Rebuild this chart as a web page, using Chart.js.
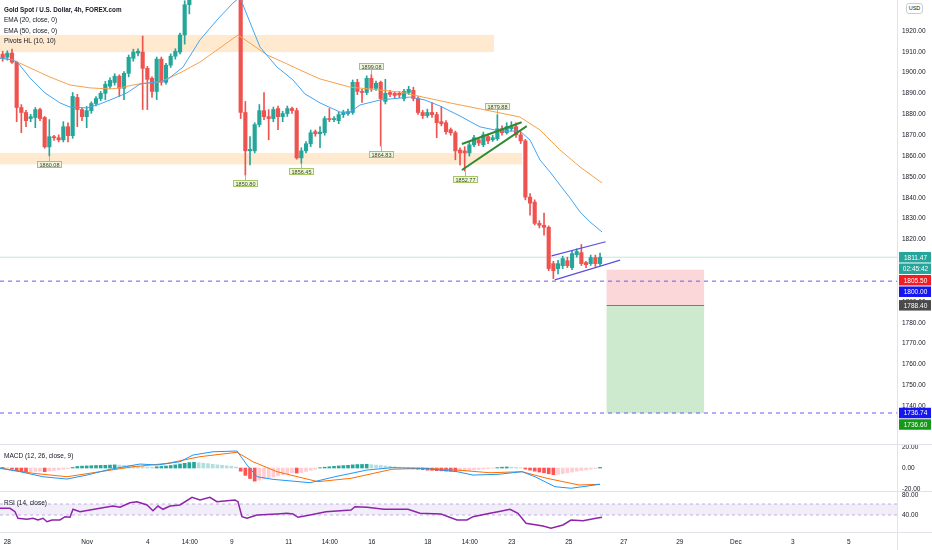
<!DOCTYPE html>
<html>
<head>
<meta charset="utf-8">
<title>Gold Spot 4h</title>
<script src="https://cdn.jsdelivr.net/npm/chart.js@4.4.0/dist/chart.umd.min.js"></script>
<style>
html,body{margin:0;padding:0;background:#fff;}
#wrap{position:relative;width:932px;height:550px;overflow:hidden;}
#wrap canvas{position:absolute;left:0;top:0;}
.lbl{position:absolute;left:4px;font-family:"Liberation Sans",Arial,sans-serif;font-size:6.5px;color:#131722;white-space:nowrap;line-height:10.5px;}
#usd{position:absolute;left:906px;top:3px;width:15px;height:9px;border:1px solid #c9ccd4;border-radius:3px;font-family:"Liberation Sans",Arial,sans-serif;font-size:5.5px;line-height:9px;text-align:center;color:#131722;background:#fff;}
</style>
</head>
<body>
<div id="wrap">
<canvas id="mycanvas" width="932" height="550"></canvas>
<div class="lbl" style="top:4.75px"><span style="font-weight:bold;font-size:6.3px">Gold Spot / U.S. Dollar, 4h, FOREX.com</span><br>EMA (20, close, 0)<br>EMA (50, close, 0)<br>Pivots HL (10, 10)</div>
<div class="lbl" style="top:450.75px">MACD (12, 26, close, 9)</div>
<div class="lbl" style="top:497.5px">RSI (14, close)</div>
<div id="usd">USD</div>
</div>
<script>
// 4h candles, index 0 = first bar on the left
var opens = [1908.9,1907.4,1909.4,1905.0,1883.3,1880.9,1878.0,1878.5,1882.3,1878.5,1864.4,1869.3,1868.8,1867.8,1874.1,1869.8,1888.1,1882.3,1878.9,1881.8,
  1885.2,1887.6,1890.1,1893.5,1895.3,1898.3,1892.5,1899.7,1906.9,1909.4,1909.9,1902.1,1897.3,1891.0,1906.5,1895.4,1903.6,1907.9,1909.9,1918.1,
  1932.6,1938,1943,1950,1947,1951,1955,1948,1953,1958,1955,1960,1880.9,1862.5,1862.5,1875.1,1881.8,1878.9,1878.0,1882.8,
  1878.9,1880.4,1882.8,1881.8,1859.1,1862.5,1865.9,1871.7,1870.7,1871.2,1878.0,1877.5,1877.0,1879.9,1880.4,1880.9,1895.4,1891.0,1890.5,1897.3,
  1892.5,1895.4,1886.2,1890.5,1890.1,1890.1,1887.6,1890.5,1891.5,1887.6,1880.9,1879.4,1880.9,1879.9,1876.5,1876.0,1872.7,1871.2,1862.9,1862.5,
  1861.5,1865.4,1867.8,1865.4,1869.3,1867.8,1868.3,1873.1,1871.2,1873.1,1874.1,1870.2,1867.3,1840.3,1837.9,1827.7,1826.8,1825.8,1808.4,1806.0,
  1807.4,1809.8,1806.5,1812.7,1813.7,1808.9,1808.4,1811.3,1808.4];
var highs = [1910.3,1910.5,1911.3,1905.5,1884.7,1882.0,1880.0,1883.3,1883.0,1879.0,1877.5,1870.0,1870.2,1876.5,1876.0,1890.5,1889.6,1883.0,1883.8,1886.0,
  1888.5,1891.0,1895.8,1897.5,1899.5,1899.0,1900.5,1908.5,1911.3,1911.5,1917.6,1903.0,1898.0,1907.5,1907.5,1904.5,1909.0,1911.5,1919.0,1934.5,
  1940.0,1945,1952,1955,1953,1960,1958,1956,1962,1963,1965,1965,1886.2,1869.3,1876.0,1884.7,1890.5,1882.3,1883.5,1884.0,
  1881.5,1884.0,1883.5,1883.0,1864.0,1867.0,1872.5,1872.5,1874.1,1879.0,1882.8,1879.0,1881.0,1882.0,1882.5,1896.5,1896.8,1892.0,1898.5,1899.08,
  1896.0,1896.0,1896.8,1891.5,1891.0,1891.0,1892.0,1893.5,1893.0,1888.5,1882.0,1882.5,1885.7,1881.0,1883.8,1877.0,1873.5,1872.0,1864.0,1864.5,
  1866.5,1870.0,1869.0,1871.5,1870.5,1870.0,1879.88,1874.5,1876.0,1876.5,1876.0,1871.5,1868.0,1842.0,1839.0,1829.0,1832.6,1826.5,1809.5,1810.0,
  1812.0,1811.5,1814.5,1815.5,1817.6,1809.5,1812.5,1812.5,1813.5];
var lows = [1905.5,1906.0,1904.5,1876.5,1871.2,1874.1,1876.5,1873.6,1877.0,1863.8,1860.08,1867.5,1866.8,1866.8,1866.8,1868.5,1874.1,1877.0,1873.6,1880.5,
  1884.0,1886.5,1887.0,1892.5,1894.0,1888.6,1887.0,1898.0,1905.5,1908.0,1882.3,1882.3,1888.1,1887.1,1894.0,1894.5,1902.5,1906.5,1909.0,1913.7,
  1928.2,1935,1940,1944,1942,1948,1945,1944,1950,1952,1953,1878.0,1850.80,1855.7,1861.5,1874.0,1877.5,1867.8,1876.5,1872.7,
  1876.5,1879.0,1880.5,1858.5,1856.45,1861.5,1864.5,1869.5,1864.0,1870.0,1876.5,1876.5,1875.5,1878.5,1879.5,1880.0,1889.5,1885.7,1889.5,1891.0,
  1891.5,1864.83,1885.0,1888.5,1888.0,1888.0,1886.5,1889.5,1886.5,1880.0,1878.0,1878.5,1878.5,1868.8,1874.5,1870.5,1870.0,1858.2,1855.7,1852.77,
  1860.0,1864.5,1865.0,1864.5,1866.0,1867.0,1867.5,1870.0,1870.5,1872.0,1869.0,1866.0,1839.0,1831.6,1827.0,1825.5,1822.0,1805.0,1801.2,1803.5,
  1806.0,1806.5,1805.5,1811.5,1807.5,1806.5,1807.5,1807.0,1807.5];
var closes = [1906.8,1909.4,1905.0,1883.3,1880.9,1877.0,1878.9,1882.3,1878.0,1864.4,1869.3,1868.8,1867.8,1874.1,1869.8,1888.6,1882.3,1878.9,1881.8,1885.2,
  1887.6,1890.1,1894.4,1896.3,1898.3,1892.5,1899.7,1907.4,1909.9,1910.3,1902.1,1896.8,1891.0,1906.5,1895.4,1903.6,1907.9,1910.3,1918.1,1932.6,
  1938.0,1943,1950,1947,1951,1955,1948,1953,1958,1955,1960,1880.9,1862.5,1863.2,1875.1,1881.8,1878.9,1878.0,1882.3,1878.9,
  1880.4,1882.8,1881.8,1859.1,1862.5,1865.9,1871.2,1870.7,1871.5,1878.0,1877.5,1878.0,1879.9,1880.9,1881.3,1895.4,1891.0,1890.5,1897.3,1892.5,
  1894.9,1887.6,1890.1,1889.6,1889.1,1889.3,1891.0,1892.0,1887.6,1880.9,1879.4,1880.9,1879.9,1876.0,1875.5,1871.7,1871.2,1862.5,1861.5,1861.5,
  1865.4,1868.8,1866.3,1870.2,1867.3,1868.8,1873.1,1871.2,1874.1,1874.1,1870.2,1867.3,1840.3,1837.4,1827.7,1826.8,1825.8,1806.0,1805.0,1808.4,
  1810.8,1807.4,1813.2,1814.2,1808.4,1807.9,1811.3,1808.4,1811.47];

// EMA lines read at sample bars
var ema20Idx = [-0.57,2.21,3.28,5.86,9.07,12.28,14.43,18.07,20.85,23.0,26.64,29.43,33.07,35.21,38.64,42.28,45.93,49.35,50.85,51.92,55.14,58.78,62.21,64.78,68.0,72.28,74.42,76.57,80.85,87.28,90.49,93.71,98.0,102.28,106.57,110.85,113.0,115.14,117.28,119.42,121.57,123.71,125.85,128.42];
var ema20Val = [1907.0,1906.1,1904.7,1897.5,1890.3,1885.5,1883.5,1883.1,1885.0,1886.9,1890.3,1894.6,1895.5,1896.5,1902.7,1915.7,1925.3,1933.4,1936.3,1930.1,1912.3,1902.7,1896.5,1889.8,1885.5,1881.1,1881.1,1884.5,1886.9,1888.3,1886.9,1884.0,1879.2,1874.0,1872.0,1872.0,1867.7,1858.1,1852.4,1846.1,1839.9,1833.2,1828.4,1823.6];
var ema50Idx = [-0.57,2.21,5.86,10.14,14.43,18.71,23.0,25.14,27.93,30.93,33.71,38.0,42.28,46.57,50.42,53.0,56.64,60.07,63.71,68.0,74.42,85.14,95.85,106.57,110.85,115.14,119.42,123.71,128.42];
var ema50Val = [1907.0,1906.1,1902.3,1897.9,1894.1,1892.7,1892.2,1892.7,1894.1,1895.1,1895.5,1899.9,1905.1,1911.9,1918.1,1914.2,1908.5,1905.1,1901.3,1897.0,1893.1,1890.7,1885.5,1880.7,1878.7,1872.5,1862.9,1854.8,1847.1];

// MACD pane
var macdIdx = [-0.57,3.71,8.64,13.78,18.07,23.0,29.43,33.07,38.0,40.78,45.07,50.21,52.35,54.5,57.93,63.71,65.85,71.21,78.07,83.42,90.28,97.35,100.78,106.14,111.28,114.07,118.35,121.78,127.99];
var macdVal = [-0.3,-3.5,-8.3,-10.5,-6.7,-1.2,3.8,2.9,6,12.4,15.5,16.2,2.9,-8.3,-10.8,-13.1,-14,-8.3,-1.9,0.3,-0.3,-3.5,-6.7,-6,-3.5,-8.3,-17.8,-19.3,-15.5];
var signalIdx = [-0.57,6.5,13.78,20.85,27.93,35.21,42.28,50.21,53.64,58.78,63.71,67.57,74.64,83.42,90.28,97.35,104.42,111.28,116.64,123.5,127.99];
var signalVal = [0,-5,-8.3,-3.5,1.2,4.4,10.8,15,6,-3.5,-8.9,-13,-9.8,-1.2,-0.3,-1.9,-4.5,-3.5,-9.8,-16.2,-15.5];
var histVal = [0.5,0.2,-1,-2.5,-3.5,-3.8,-3.5,-3.2,-2.8,-3.5,-2.8,-2.3,-1.8,-1.2,-0.6,0.5,1.5,1.8,2.0,2.2,
  2.4,2.5,2.6,2.8,3.0,2.8,2.6,2.5,2.2,1.8,1.5,1.0,0.8,1.2,1.5,1.9,2.4,3.0,3.8,4.5,
  5.2,5.5,5.0,4.6,4.2,3.6,3.0,2.6,2.1,1.6,1.0,-3,-7,-10,-12.5,-11.5,-10.5,-9.5,-8.5,-7.5,
  -6.5,-5.5,-4.5,-4.8,-4.2,-3.2,-2.2,-1.2,0.3,0.8,1.2,1.6,2.0,2.3,2.6,3.0,3.3,3.4,3.6,3.2,
  2.8,2.4,2.0,1.6,1.2,0.8,0.4,-0.4,-0.8,-1.2,-1.6,-2.0,-2.2,-2.5,-2.7,-2.9,-3.0,-3.2,-3.0,-2.7,
  -2.3,-1.8,-1.4,-1.0,-0.6,-0.3,0.4,0.8,1.0,0.9,0.6,0.2,-1.0,-2.0,-3.0,-3.8,-4.5,-5.5,-6.3,-6.0,
  -5.3,-4.6,-3.8,-3.0,-2.4,-1.8,-1.1,-0.5,0.6];

// RSI pane
var rsiIdx = [-0.57,1.57,2.64,3.28,5.21,6.5,7.57,8.64,9.5,10.57,12.28,13.36,14.43,15.07,16.57,20.85,23.64,25.14,27.28,28.78,30.93,32.21,33.28,34.36,35.85,38.0,40.57,42.28,44.42,45.92,48.07,49.78,50.42,51.28,52.35,54.5,58.78,60.92,62.21,63.28,65.85,69.28,74.64,75.5,78.07,81.71,86.85,89.42,93.92,97.35,99.49,100.78,104.42,106.14,108.71,110.42,112.14,115.78,117.49,120.06,121.78,124.35,127.14,128.42];
var rsiVal = [53.4,53.4,46.6,33.4,31.4,33.4,30,33.4,26.6,30,30,36.6,35.4,51.4,46.6,53.4,58,55.4,64.6,66.6,60,48.6,58,51.4,58,60,75.4,70,75.4,66.6,68.6,70,66.6,36.6,33.4,40,42,43.4,42,35.4,40,46.6,50,56.6,55.4,51.4,51.4,43.4,42,30,30,36.6,43.4,46.6,51.4,43.4,23.4,18,13.4,20,30,28.6,33.4,35.4];
var rsiBand = [62, 40];

// time axis labels
var tickIndex = [1.0,18.1,31.1,40.1,49.1,61.3,70.1,79.1,91.1,100.1,109.1,121.3,133.1,145.1,157.1,169.3,181.3];
var tickText = ['28','Nov','4','14:00','9','11','14:00','16','18','14:00','23','25','27','29','Dec','3','5'];
var xRange = [-0.57, 191.63];

// price axis ticks and ranges
var priceTicks = [1740,1750,1760,1770,1780,1790,1800,1810,1820,1830,1840,1850,1860,1870,1880,1890,1900,1910,1920];
var priceRange = [1721.87, 1934.87];
var macdTicks = [-20, 0, 20];
var macdRange = [-21.9, 22.9];
var rsiTicks = [40, 80];
var rsiRange = [6, 88];

// drawings
var zoneEnd = [105.3, 111.3];
var zoneTop = [1918.1, 1861.5];
var zoneBottom = [1909.9, 1856.0];
var wedgeUpper = [[98.4, 1865.8], [111.2, 1876.2]];
var wedgeLower = [[98.4, 1853.3], [112.3, 1874.4]];
var channelUpper = [[117.6, 1812.1], [129.2, 1818.9]];
var channelLower = [[118.3, 1800.6], [132.3, 1810.1]];
var posRange = [129.4, 150.3];
var posStop = 1805.5, posEntry = 1788.4, posTarget = 1736.6;
var lastPrice = 1811.47;
var dashedLevels = [1800.00, 1736.74];

var pivotIndex = [10, 52, 64, 79, 81, 99, 106];
var pivotPrice = [1860.08, 1850.80, 1856.45, 1899.08, 1864.83, 1852.77, 1879.88];
var pivotSide = ['low', 'low', 'low', 'high', 'low', 'low', 'high'];

var axisLabelPrice = [1811.47, 1811.47, 1805.50, 1800.00, 1788.40, 1736.74, 1736.60];
var axisLabelText = ['1811.47', '02:45:42', '1805.50', '1800.00', '1788.40', '1736.74', '1736.60'];
var axisLabelColor = ['#26a69a', '#26a69a', '#f01d24', '#1616ee', '#4a4a4a', '#1616ee', '#159a17'];

var UP = '#26a69a', DOWN = '#ef5350';
var FONT = '"Liberation Sans", Arial, sans-serif';

var bodies = [], wicks = [], candleColors = [];
for (var i = 0; i < closes.length; i++) {
  bodies.push({x: i, y: [opens[i], closes[i]]});
  wicks.push({x: i, y: [lows[i], highs[i]]});
  candleColors.push(closes[i] >= opens[i] ? UP : DOWN);
}

var histData = [], histColors = [];
for (var i = 0; i < histVal.length; i++) {
  var prev = i > 0 ? histVal[i - 1] : 0;
  histData.push({x: i, y: histVal[i]});
  if (histVal[i] >= 0) histColors.push(histVal[i] >= prev ? '#26a69a' : '#b2dfdb');
  else histColors.push(histVal[i] < prev ? '#ff5252' : '#ffcdd2');
}

function pts(idx, val) {
  var out = [];
  for (var k = 0; k < idx.length; k++) out.push({x: idx[k], y: val[k]});
  return out;
}
function seg(p) {
  return [{x: p[0][0], y: p[0][1]}, {x: p[1][0], y: p[1][1]}];
}
function flat(v) {
  return [{x: xRange[0], y: v}, {x: xRange[1], y: v}];
}
function lineSet(data, color, width, axis, order, dash) {
  return {type: 'line', data: data, borderColor: color, borderWidth: width, pointRadius: 0,
    tension: 0, fill: false, yAxisID: axis, order: order, borderDash: dash || []};
}

var datasets = [
  {type: 'bar', data: bodies, backgroundColor: candleColors, barThickness: 3.5, grouped: false, yAxisID: 'y', order: 2},
  {type: 'bar', data: wicks, backgroundColor: candleColors, barThickness: 1, grouped: false, yAxisID: 'y', order: 3},
  lineSet(pts(ema20Idx, ema20Val), '#42a5f5', 1, 'y', 1),
  lineSet(pts(ema50Idx, ema50Val), '#f7a04b', 1, 'y', 1),
  lineSet(flat(lastPrice), '#bfe6e1', 1, 'y', 5),
  lineSet(flat(dashedLevels[0]), '#6b5cf0', 1, 'y', 4, [4, 4]),
  lineSet(flat(dashedLevels[1]), '#6b5cf0', 1, 'y', 4, [4, 4]),
  lineSet(seg(wedgeUpper), '#2e8b32', 2, 'y', 0),
  lineSet(seg(wedgeLower), '#2e8b32', 2, 'y', 0),
  lineSet(seg(channelUpper), '#5b4fe0', 1.2, 'y', 0),
  lineSet(seg(channelLower), '#5b4fe0', 1.2, 'y', 0),
  {type: 'bar', data: histData, backgroundColor: histColors, barThickness: 3, grouped: false, yAxisID: 'yMacd', order: 3},
  lineSet(pts(macdIdx, macdVal), '#2196f3', 1, 'yMacd', 1),
  lineSet(pts(signalIdx, signalVal), '#ff6d00', 1, 'yMacd', 1),
  lineSet(pts(rsiIdx, rsiVal), '#8e24aa', 1.5, 'yRsi', 1)
];
var bandTop = lineSet(flat(rsiBand[0]), 'rgba(126,87,194,0.45)', 1, 'yRsi', 6, [3, 3]);
bandTop.fill = '+1';
bandTop.backgroundColor = 'rgba(126,87,194,0.1)';
datasets.push(bandTop);
datasets.push(lineSet(flat(rsiBand[1]), 'rgba(126,87,194,0.45)', 1, 'yRsi', 6, [3, 3]));

function noPad(s) {
  s.paddingTop = 0; s.paddingBottom = 0; s.paddingLeft = 0; s.paddingRight = 0;
}
function yAxis(range, ticks, weight) {
  return {
    type: 'linear', position: 'right', stack: 'panes', stackWeight: weight,
    min: range[0], max: range[1],
    grid: {display: false, drawTicks: false}, border: {display: false},
    ticks: {color: '#131722', padding: 5, autoSkip: false, font: {size: 6.5, family: FONT},
      callback: function(v) { return Number(v).toFixed(2); }},
    afterBuildTicks: function(s) { s.ticks = ticks.map(function(v) { return {value: v}; }); },
    afterFit: function(s) { s.width = 35; noPad(s); }
  };
}

// zones, position tool
var underlay = {
  id: 'underlay',
  beforeDatasetsDraw: function(chart) {
    var ctx = chart.ctx, xs = chart.scales.x, ys = chart.scales.y;
    ctx.save();
    ctx.fillStyle = 'rgba(255,160,40,0.22)';
    for (var k = 0; k < zoneEnd.length; k++) {
      var top = ys.getPixelForValue(zoneTop[k]), bot = ys.getPixelForValue(zoneBottom[k]);
      ctx.fillRect(xs.left, top, xs.getPixelForValue(zoneEnd[k]) - xs.left, bot - top);
    }
    var x1 = xs.getPixelForValue(posRange[0]), x2 = xs.getPixelForValue(posRange[1]);
    var yStop = ys.getPixelForValue(posStop), yEntry = ys.getPixelForValue(posEntry), yTarget = ys.getPixelForValue(posTarget);
    ctx.fillStyle = 'rgba(242,54,69,0.2)';
    ctx.fillRect(x1, yStop, x2 - x1, yEntry - yStop);
    ctx.fillStyle = 'rgba(76,175,80,0.28)';
    ctx.fillRect(x1, yEntry, x2 - x1, yTarget - yEntry);
    ctx.strokeStyle = '#787b86'; ctx.lineWidth = 1;
    ctx.beginPath(); ctx.moveTo(x1, Math.round(yEntry) + 0.5); ctx.lineTo(x2, Math.round(yEntry) + 0.5); ctx.stroke();
    ctx.restore();
  },
  afterDatasetsDraw: function(chart) {
    var ctx = chart.ctx, xs = chart.scales.x, ys = chart.scales.y;
    ctx.save();
    ctx.font = '5.5px ' + FONT;
    ctx.textAlign = 'center'; ctx.textBaseline = 'middle';
    for (var k = 0; k < pivotIndex.length; k++) {
      var px = Math.round(xs.getPixelForValue(pivotIndex[k])) + 0.5;
      var py = ys.getPixelForValue(pivotPrice[k]);
      var txt = pivotPrice[k].toFixed(2);
      var w = Math.round(ctx.measureText(txt).width + 4), h = 7;
      var by = pivotSide[k] === 'high' ? Math.round(py - 5 - h) : Math.round(py + 5);
      ctx.strokeStyle = '#a3c763'; ctx.lineWidth = 1;
      ctx.beginPath(); ctx.moveTo(px, py); ctx.lineTo(px, pivotSide[k] === 'high' ? by + h : by); ctx.stroke();
      ctx.fillStyle = '#eef6dc';
      ctx.fillRect(px - w / 2, by, w, h);
      ctx.strokeRect(px - w / 2, by + 0.5, w, h - 1);
      ctx.fillStyle = '#3b3f2c';
      ctx.fillText(txt, px, by + h / 2 + 0.5);
    }
    ctx.restore();
  },
  afterDraw: function(chart) {
    var ctx = chart.ctx, area = chart.chartArea, ys = chart.scales.y;
    var W = chart.width, H = chart.height;
    ctx.save();
    ctx.strokeStyle = '#e0e3eb'; ctx.lineWidth = 1;
    [chart.scales.yMacd.top, chart.scales.yRsi.top, chart.scales.x.top].forEach(function(t) {
      ctx.beginPath(); ctx.moveTo(0, Math.round(t) + 0.5); ctx.lineTo(W, Math.round(t) + 0.5); ctx.stroke();
    });
    ctx.beginPath(); ctx.moveTo(Math.round(area.right) + 0.5, 0); ctx.lineTo(Math.round(area.right) + 0.5, H); ctx.stroke();
    // price labels on the axis, pushed down when they overlap
    var h = 11.5, last = -100;
    ctx.font = '6.5px ' + FONT;
    ctx.textAlign = 'center'; ctx.textBaseline = 'middle';
    for (var k = 0; k < axisLabelPrice.length; k++) {
      var cy = Math.max(ys.getPixelForValue(axisLabelPrice[k]), last + h);
      last = cy;
      ctx.fillStyle = axisLabelColor[k];
      ctx.fillRect(area.right + 2, cy - h / 2 + 0.5, W - area.right - 3, h - 1);
      ctx.fillStyle = '#ffffff';
      ctx.fillText(axisLabelText[k], (area.right + W) / 2 + 1, cy + 0.5);
    }
    ctx.restore();
  }
};

var ctx = document.getElementById('mycanvas');
var chart = new Chart(ctx, {
  type: 'bar',
  data: {datasets: datasets},
  plugins: [underlay],
  options: {
    responsive: false,
    animation: false,
    events: [],
    layout: {padding: 0},
    plugins: {legend: {display: false}, tooltip: {enabled: false}},
    scales: {
      x: {
        type: 'linear', position: 'bottom', min: xRange[0], max: xRange[1], offset: false,
        grid: {display: false, drawTicks: false}, border: {display: false},
        ticks: {color: '#131722', padding: 6, autoSkip: false, maxRotation: 0, font: {size: 6.5, family: FONT},
          callback: function(v, idx) { return tickText[idx]; }},
        afterBuildTicks: function(s) { s.ticks = tickIndex.map(function(v) { return {value: v}; }); },
        afterFit: function(s) { s.height = 18; noPad(s); }
      },
      y: yAxis(priceRange, priceTicks, 444),
      yMacd: yAxis(macdRange, macdTicks, 47),
      yRsi: yAxis(rsiRange, rsiTicks, 41)
    }
  }
});
</script>
</body>
</html>
